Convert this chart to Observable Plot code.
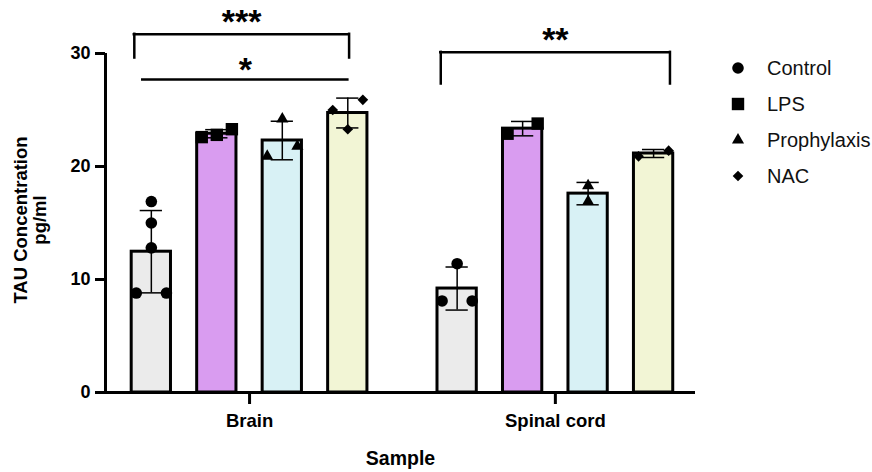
<!DOCTYPE html>
<html>
<head>
<meta charset="utf-8">
<script src="https://cdn.jsdelivr.net/npm/d3@7"></script>
<script src="https://cdn.jsdelivr.net/npm/@observablehq/plot@0.6"></script>
<style>
  body { margin: 0; background: #ffffff; font-family: "Liberation Sans", Arial, sans-serif; }
  #wrap { position: relative; width: 872px; height: 472px; }
  #legend { position: absolute; left: 728px; top: 50px; }
  #legend .row { display: flex; align-items: center; height: 36px; font-size: 20px; color: #111; white-space: nowrap; }
  #legend svg { width: 20px; height: 20px; margin-right: 19px; overflow: visible; }
  svg [aria-label="y-axis tick label"] text { font-size: 18px; font-weight: bold; }
  svg [aria-label="x-axis tick label"] text { font-size: 18.5px; font-weight: bold; }
</style>
</head>
<body>
<div id="wrap"><div id="chart"></div><div id="legend"></div></div>
<script>
// ---- data ----
const samples = ["Brain", "Spinal cord"];
const groups = ["Control", "LPS", "Prophylaxis", "NAC"];
const yTicks = [0, 10, 20, 30];

const brainControl = [16.9, 15.0, 12.8, 8.8, 8.8];
const brainLPS = [22.6, 22.8, 23.3];
const brainProphylaxis = [24.2, 20.9, 21.8];
const brainNAC = [25.9, 23.3, 25.0];

const spinalControl = [11.4, 8.1, 8.1];
const spinalLPS = [22.9, 23.8];
const spinalProphylaxis = [18.3, 16.9];
const spinalNAC = [20.9, 21.4];

// significance annotations (y in data units)
const brackets = [
  { sample: "Brain", from: "Control", to: "NAC", y: 31.7, drop: 2.1, label: "***" },
  { sample: "Spinal cord", from: "Control", to: "NAC", y: 30.1, drop: 2.8, label: "**" }
];
const sigLines = [
  { sample: "Brain", from: "Control", to: "NAC", y: 27.7, label: "*" }
];

// ---- styling / layout ----
const fills = ["#ebebeb", "#d99cf0", "#d8f1f5", "#f2f5d5"];
const symbols = ["circle", "square", "triangle", "diamond2"];
const symbolR = [5.8, 7, 4.5, 4.8];
const SAMPLE_STEP = 4.67;     // distance between sample groups, in bar steps
const HALF_BAR = 0.3;
const CAP = 0.17;
const SPREAD = 0.23;

const raw = {
  "Brain": [brainControl, brainLPS, brainProphylaxis, brainNAC],
  "Spinal cord": [spinalControl, spinalLPS, spinalProphylaxis, spinalNAC]
};

const xPos = (s, g) => samples.indexOf(s) * SAMPLE_STEP + groups.indexOf(g);

// stats and points
const stats = [];
const points = [];
for (const s of samples) {
  groups.forEach((g, gi) => {
    const vals = raw[s][gi];
    const mean = d3.mean(vals);
    const sd = d3.deviation(vals);
    const xc = xPos(s, g);
    stats.push({ sample: s, group: g, xc, mean, lo: mean - sd, hi: mean + sd });
    // spread clusters of near-equal values side by side
    const sorted = vals.map((v, i) => ({ v, i })).sort((a, b) => a.v - b.v);
    const clusters = [];
    for (const p of sorted) {
      const last = clusters[clusters.length - 1];
      if (last && p.v - last[last.length - 1].v < 1.2) last.push(p);
      else clusters.push([p]);
    }
    for (const c of clusters) {
      c.forEach((p, k) => {
        const off = (k - (c.length - 1) / 2) * SPREAD * (c.length > 1 ? 2 / (c.length - 1) : 0);
        points.push({ sample: s, group: g, v: p.v, x: xc + off });
      });
    }
  });
}

const sampleCenters = samples.map(s => d3.mean(groups, g => xPos(s, g)));

const bx = (b, which) => xPos(b.sample, which === 0 ? b.from : b.to);
const bracketExt = { "***": [-0.26, 0.02], "**": [-0.25, 0.25], "*": [-0.15, 0.02] };

const bracketH = brackets.map(b => ({ ...b, x1: bx(b, 0) + bracketExt[b.label][0], x2: bx(b, 1) + bracketExt[b.label][1] }));
const bracketV = bracketH.flatMap(b => [{ x: b.x1, y1: b.y - b.drop, y2: b.y }, { x: b.x2, y1: b.y - b.drop, y2: b.y }]);
const lineH = sigLines.map(b => ({ ...b, x1: bx(b, 0) + bracketExt[b.label][0], x2: bx(b, 1) + bracketExt[b.label][1] }));

const marginLeft = 105, marginRight = 177;
const xMin = -0.70, xMax = SAMPLE_STEP + 3 + 0.64;

const dotMarks = groups.map((g, gi) => Plot.dot(points.filter(p => p.group === g), {
  x: "x", y: "v", symbol: symbols[gi], r: symbolR[gi], fill: "#000", stroke: "none"
}));

const chart = Plot.plot({
  width: 872,
  height: 472,
  marginLeft, marginRight,
  marginTop: 53,
  marginBottom: 80,
  style: { fontFamily: "'Liberation Sans', Arial, sans-serif", color: "#000", background: "#fff" },
  x: { type: "linear", domain: [xMin, xMax], axis: null },
  y: { domain: [0, 30], axis: null },
  color: { domain: groups, range: fills },
  marks: [
    Plot.rectY(stats, { x1: d => d.xc - HALF_BAR, x2: d => d.xc + HALF_BAR, y: "mean", fill: "group", stroke: "#000", strokeWidth: 3 }),
    Plot.ruleX(stats, { x: "xc", y1: "lo", y2: "hi", stroke: "#000", strokeWidth: 1.5 }),
    Plot.ruleY(stats, { y: "hi", x1: d => d.xc - CAP, x2: d => d.xc + CAP, stroke: "#000", strokeWidth: 1.5 }),
    Plot.ruleY(stats, { y: "lo", x1: d => d.xc - CAP, x2: d => d.xc + CAP, stroke: "#000", strokeWidth: 1.5 }),
    ...dotMarks,
    // axes
    Plot.ruleY([0], { stroke: "#000", strokeWidth: 3 }),
    Plot.ruleX([xMin], { y1: 0, y2: 30, stroke: "#000", strokeWidth: 3 }),
    Plot.axisY({ ticks: yTicks, tickSize: 10, tickPadding: 5, strokeWidth: 3, fontSize: 18, fontWeight: "bold", label: null }),
    Plot.axisX({ ticks: sampleCenters, tickFormat: d => samples[sampleCenters.indexOf(d)], tickSize: 12, tickPadding: 9, strokeWidth: 3, fontSize: 18.5, fontWeight: "bold", label: null }),
    Plot.text(["TAU Concentration\npg/ml"], { frameAnchor: "left", textAnchor: "middle", rotate: -90, lineAnchor: "bottom", dx: -60, dy: -3, fontSize: 18.5, fontWeight: "bold", lineHeight: 1 }),
    Plot.text(["Sample"], { frameAnchor: "bottom", lineAnchor: "bottom", dy: 72, fontSize: 19.5, fontWeight: "bold" }),
    // significance
    Plot.ruleY(bracketH, { y: "y", x1: "x1", x2: "x2", stroke: "#000", strokeWidth: 2.5, strokeLinecap: "square" }),
    Plot.ruleX(bracketV, { x: "x", y1: "y1", y2: "y2", stroke: "#000", strokeWidth: 2.5, strokeLinecap: "square" }),
    Plot.ruleY(lineH, { y: "y", x1: "x1", x2: "x2", stroke: "#000", strokeWidth: 2.5 }),
    Plot.text(bracketH, { x: d => (d.x1 + d.x2) / 2, y: "y", text: "label", lineAnchor: "bottom", dy: -1, fontSize: 34, fontWeight: "bold" }),
    Plot.text(lineH, { x: d => (d.x1 + d.x2) / 2, y: "y", text: "label", lineAnchor: "bottom", dy: 2, fontSize: 34, fontWeight: "bold" })
  ]
});
document.getElementById("chart").appendChild(chart);

// legend
const legend = d3.select("#legend");
const d3sym = { circle: d3.symbolCircle, square: d3.symbolSquare, triangle: d3.symbolTriangle, diamond2: d3.symbolDiamond2 };
groups.forEach((g, gi) => {
  const row = legend.append("div").attr("class", "row");
  const svg = row.append("svg").attr("viewBox", "-10 -10 20 20");
  const r = symbolR[gi];
  svg.append("path").attr("d", d3.symbol(d3sym[symbols[gi]], Math.PI * r * r)()).attr("fill", "#000");
  row.append("span").text(g);
});
</script>
</body>
</html>
